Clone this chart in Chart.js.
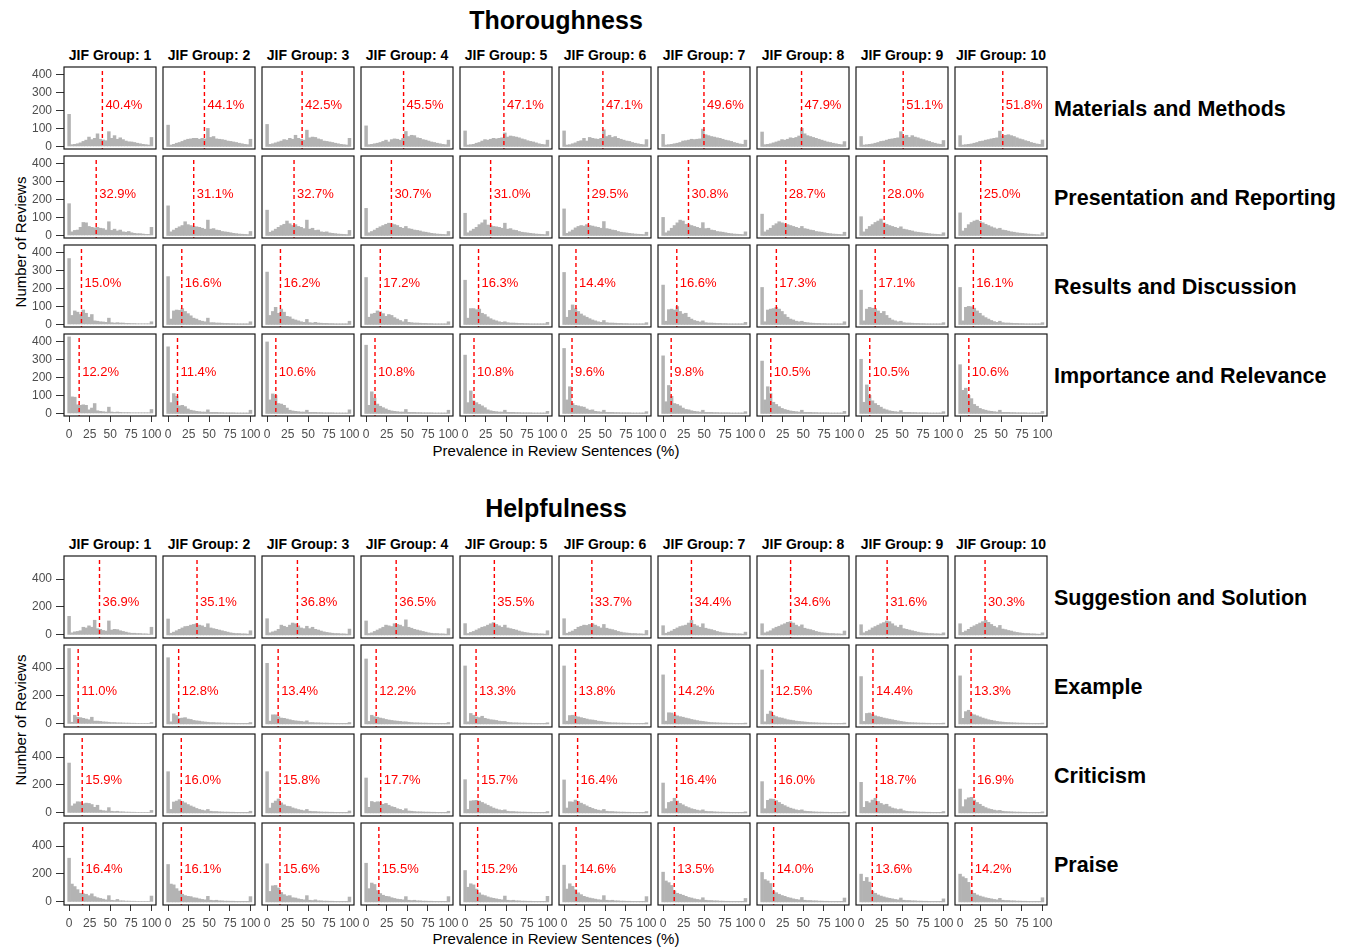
<!DOCTYPE html>
<html>
<head>
<meta charset="utf-8">
<script src="https://cdn.jsdelivr.net/npm/chart.js@4.4.1/dist/chart.umd.min.js"></script>
<style>
  body { margin: 0; background: #fff; font-family: "Liberation Sans", Arial, sans-serif; }
  #page { position: relative; width: 1352px; height: 947px; overflow: hidden; }
  .lbl { position: absolute; white-space: nowrap; color: #000; transform: translate(-50%, -50%); }
  canvas { position: absolute; }
</style>
</head>
<body>
<div id="page"></div>
<script>
// ---------- data ----------
const jifGroups = ["JIF Group: 1", "JIF Group: 2", "JIF Group: 3", "JIF Group: 4", "JIF Group: 5",
  "JIF Group: 6", "JIF Group: 7", "JIF Group: 8", "JIF Group: 9", "JIF Group: 10"];
const thoroughnessRows = ["Materials and Methods", "Presentation and Reporting", "Results and Discussion", "Importance and Relevance"];
const helpfulnessRows = ["Suggestion and Solution", "Example", "Criticism", "Praise"];

// histogram bin centres (30 bins over 0-100)
const binCenters = [0, 3.45, 6.9, 10.34, 13.79, 17.24, 20.69, 24.14, 27.59, 31.03, 34.48, 37.93, 41.38, 44.83, 48.28,
  51.72, 55.17, 58.62, 62.07, 65.52, 68.97, 72.41, 75.86, 79.31, 82.76, 86.21, 89.66, 93.1, 96.55, 100];
const xTicks = [0, 25, 50, 75, 100];
const yTicksThoroughness = [0, 100, 200, 300, 400];
const yTicksHelpfulness = [0, 200, 400];

const materialsMeans = [40.4, 44.1, 42.5, 45.5, 47.1, 47.1, 49.6, 47.9, 51.1, 51.8];
const materialsCounts = [
  [178,10,12,15,20,28,35,52,38,45,70,40,36,32,82,45,60,40,48,38,30,26,25,22,18,15,12,10,8,50],
  [118,8,12,18,22,28,35,40,42,45,45,40,45,42,100,50,55,42,40,38,35,30,28,25,22,18,15,12,10,40],
  [122,12,15,20,25,30,38,35,45,40,62,45,40,35,90,48,52,50,42,38,30,28,25,22,18,15,12,10,8,45],
  [114,10,12,15,18,22,28,35,25,38,42,40,35,45,83,55,62,60,48,45,38,35,30,25,22,18,15,12,10,35],
  [86,8,10,12,18,22,30,38,35,40,45,42,45,48,75,52,58,55,52,48,42,38,32,28,25,20,15,12,10,35],
  [86,8,10,15,20,28,32,45,30,50,45,42,40,45,92,55,62,50,55,45,40,35,30,28,22,18,15,12,10,38],
  [67,8,10,12,15,18,22,30,32,35,40,38,40,42,96,65,60,55,52,48,45,40,35,32,28,22,18,14,12,35],
  [80,10,12,15,20,25,30,38,35,40,48,45,50,58,100,70,60,55,50,45,40,35,30,25,22,18,15,12,10,27],
  [55,8,10,12,14,18,22,28,30,35,40,42,45,48,82,55,62,50,60,52,48,42,38,32,28,22,18,14,12,33],
  [60,8,10,12,14,18,22,28,30,35,38,42,45,48,85,58,62,65,60,55,48,42,38,32,28,22,18,14,12,36]
];

const presentationMeans = [32.9, 31.1, 32.7, 30.7, 31.0, 29.5, 30.8, 28.7, 28.0, 25.0];
const presentationCounts = [
  [176,20,28,30,45,72,70,50,45,42,45,40,38,30,76,28,35,25,30,20,18,22,15,12,10,10,8,6,6,45],
  [164,20,30,40,48,55,76,60,55,50,48,45,40,35,85,35,38,30,28,22,20,18,15,12,10,8,7,6,5,22],
  [140,18,25,35,45,55,62,80,65,55,60,50,45,38,85,35,40,28,30,20,18,20,14,12,10,8,7,6,5,28],
  [150,15,22,30,40,48,55,62,68,65,60,55,45,40,50,38,35,30,28,25,20,18,15,12,10,8,7,6,5,22],
  [123,15,25,35,45,60,70,86,58,55,50,48,45,40,68,35,38,30,28,22,18,16,14,12,10,8,7,6,5,22],
  [147,12,20,30,42,50,55,52,60,55,52,48,45,40,77,38,35,30,28,22,18,16,14,12,10,8,7,6,5,18],
  [100,15,25,40,55,70,85,80,62,60,55,50,45,40,71,38,40,30,28,22,20,18,15,12,10,8,7,6,5,20],
  [118,20,30,40,55,65,76,70,65,60,55,50,45,40,50,38,35,30,28,22,20,18,15,12,10,8,7,6,5,18],
  [104,20,35,50,60,72,80,91,70,62,55,50,45,40,48,35,32,28,25,20,18,16,14,12,10,8,7,6,5,15],
  [125,25,40,60,72,80,85,78,70,62,55,48,42,36,40,30,28,24,20,18,15,13,12,10,8,7,6,5,4,15]
];

const resultsMeans = [15.0, 16.6, 16.2, 17.2, 16.3, 14.4, 16.6, 17.3, 17.1, 16.1];
const resultsCounts = [
  [365,50,75,68,55,80,62,40,55,20,18,15,14,12,35,10,8,10,8,8,6,6,5,5,4,4,4,4,4,15],
  [265,30,75,80,78,88,72,60,48,35,30,22,18,15,35,10,10,8,8,7,6,6,5,5,4,4,4,4,4,15],
  [290,50,72,95,62,85,68,45,42,30,25,20,15,12,28,10,8,12,8,7,6,6,5,5,4,4,4,4,4,18],
  [260,40,58,62,75,70,60,45,55,50,38,30,22,15,28,12,10,8,8,7,6,6,5,5,4,4,4,4,4,15],
  [245,35,88,88,82,85,62,55,42,32,25,20,15,12,15,10,8,8,7,6,6,5,5,4,4,4,4,4,4,12],
  [288,40,78,108,88,72,58,48,40,32,25,20,15,12,22,10,8,8,7,6,6,5,5,4,4,4,4,4,4,10],
  [218,18,82,85,80,99,72,58,62,40,30,22,18,14,20,10,8,8,7,6,6,5,5,4,4,4,4,4,4,12],
  [205,15,80,85,88,95,85,72,55,40,30,25,18,15,18,12,10,8,7,6,6,5,5,4,4,4,4,4,4,15],
  [190,20,85,95,90,88,75,62,72,50,35,25,20,15,18,10,8,8,7,6,6,5,5,4,4,4,4,4,4,10],
  [205,20,95,100,98,90,75,62,48,38,30,22,16,12,18,10,8,8,7,6,6,5,5,4,4,4,4,4,4,10]
];

const importanceMeans = [12.2, 11.4, 10.6, 10.8, 10.8, 9.6, 9.8, 10.5, 10.5, 10.6];
const importanceCounts = [
  [424,92,90,48,45,48,45,20,30,55,15,12,10,8,35,8,6,8,6,5,5,5,4,4,4,4,4,4,4,22],
  [369,60,110,95,42,45,38,25,18,15,12,10,8,8,20,6,6,6,5,5,4,4,4,4,3,3,3,3,3,18],
  [396,75,108,100,55,52,45,30,18,14,12,10,8,8,18,6,6,6,5,5,4,4,4,4,3,3,3,3,3,20],
  [378,45,120,85,52,40,32,25,18,14,12,10,8,8,22,6,6,6,5,5,4,4,4,4,3,3,3,3,3,18],
  [323,60,125,70,60,50,42,32,20,15,12,10,8,8,18,6,6,6,5,5,4,4,4,4,3,3,3,3,3,12],
  [360,75,148,55,45,42,38,35,25,18,20,12,10,8,18,6,6,6,5,5,4,4,4,4,3,3,3,3,3,10],
  [319,65,155,95,55,50,42,30,22,20,15,12,10,8,18,6,6,6,5,5,4,4,4,4,3,3,3,3,3,10],
  [290,75,148,110,62,50,38,28,22,18,14,12,10,8,18,6,6,6,5,5,4,4,4,4,3,3,3,3,3,12],
  [300,62,158,100,70,55,45,35,25,20,15,12,10,8,16,6,6,6,5,5,4,4,4,4,3,3,3,3,3,10],
  [270,128,140,100,82,50,40,28,22,18,14,12,10,8,18,6,6,6,5,5,4,4,4,4,3,3,3,3,3,12]
];

const suggestionMeans = [36.9, 35.1, 36.8, 36.5, 35.5, 33.7, 34.4, 34.6, 31.6, 30.3];
const suggestionCounts = [
  [133,15,22,25,30,55,50,65,55,105,45,40,32,28,100,35,40,38,30,25,20,15,12,12,10,10,8,8,6,55],
  [114,12,20,30,40,50,60,62,70,75,80,70,65,55,80,50,45,40,35,30,25,20,15,12,10,10,8,8,6,30],
  [116,15,22,28,40,70,62,55,70,85,80,65,50,45,62,45,55,40,35,28,22,18,15,12,10,10,8,8,6,42],
  [100,10,15,25,35,45,55,70,65,60,80,75,70,60,108,55,48,40,35,30,25,20,15,12,10,10,8,8,6,45],
  [81,10,18,25,35,45,55,60,70,80,88,75,65,55,70,50,45,40,35,28,22,18,15,12,10,10,8,8,6,30],
  [116,12,20,28,40,55,62,70,68,75,80,70,60,50,75,48,42,38,32,25,20,16,14,12,10,10,8,8,6,32],
  [66,12,20,28,40,50,60,65,70,85,104,75,65,55,80,48,42,38,32,25,20,16,14,12,10,10,8,8,6,20],
  [80,15,22,30,45,55,62,72,80,90,95,85,70,60,72,48,42,38,32,25,20,16,14,12,10,10,8,8,6,28],
  [73,15,25,35,50,60,70,80,88,100,95,80,65,55,70,45,40,35,30,25,20,16,14,12,10,10,8,8,6,15],
  [80,18,28,40,55,65,75,85,95,105,90,75,62,52,68,42,38,32,28,22,18,15,12,10,10,8,8,6,5,15]
];

const exampleMeans = [11.0, 12.8, 13.4, 12.2, 13.3, 13.8, 14.2, 12.5, 14.4, 13.3];
const exampleCounts = [
  [540,12,62,48,45,40,35,30,48,20,20,18,15,14,12,10,10,8,8,7,6,6,5,5,4,4,4,4,4,10],
  [474,15,72,60,40,42,45,35,32,25,22,20,16,14,12,10,10,8,8,7,6,6,5,5,4,4,4,4,4,10],
  [434,20,65,65,52,42,40,35,30,25,22,20,18,15,22,10,10,8,8,7,6,6,5,5,4,4,4,4,4,10],
  [465,18,62,52,48,42,38,32,28,25,22,20,18,15,15,12,10,8,8,7,6,6,5,5,4,4,4,4,4,10],
  [415,15,75,62,50,45,55,40,35,30,28,25,20,18,18,12,10,8,8,7,6,6,5,5,4,4,4,4,4,8],
  [415,20,60,62,55,50,45,40,35,30,28,25,20,18,15,12,10,8,8,7,6,6,5,5,4,4,4,4,4,8],
  [351,20,80,78,65,58,52,48,42,38,32,28,24,20,18,15,12,10,9,8,7,6,6,5,5,4,4,4,4,6],
  [386,15,70,92,62,52,45,42,36,30,27,24,20,18,16,14,12,10,9,8,7,6,6,5,5,4,4,4,4,6],
  [339,18,75,78,68,58,52,48,42,38,34,30,26,22,18,15,12,10,9,8,7,6,6,5,5,4,4,4,4,6],
  [344,40,88,98,72,65,58,50,42,36,30,26,22,18,15,13,11,10,9,8,7,6,6,5,5,4,4,4,4,6]
];

const criticismMeans = [15.9, 16.0, 15.8, 17.7, 15.7, 16.4, 16.4, 16.0, 18.7, 16.9];
const criticismCounts = [
  [357,50,65,80,78,65,70,68,60,40,55,20,16,14,38,12,10,12,8,8,6,6,5,5,4,4,4,4,4,18],
  [295,25,78,85,95,82,72,60,50,42,32,25,20,16,25,12,10,10,8,7,6,6,5,5,4,4,4,4,4,12],
  [295,35,70,85,100,72,58,48,46,36,30,24,20,16,25,12,10,10,8,7,6,6,5,5,4,4,4,4,4,14],
  [250,40,82,75,80,78,62,68,55,45,40,30,25,18,30,14,12,10,8,8,7,6,6,5,5,4,4,4,4,12],
  [238,25,85,88,90,85,75,65,55,45,35,28,22,18,22,12,10,10,8,7,6,6,5,5,4,4,4,4,4,10],
  [236,35,80,78,92,82,70,60,50,40,32,25,20,16,25,12,10,10,8,7,6,6,5,5,4,4,4,4,4,10],
  [214,30,75,82,105,85,68,58,46,38,30,25,20,16,22,12,10,10,8,7,6,6,5,5,4,4,4,4,4,8],
  [224,30,90,100,98,88,75,62,52,42,34,28,22,18,22,13,11,10,8,7,6,6,5,5,4,4,4,4,4,8],
  [219,40,82,72,92,105,82,68,58,62,45,35,30,24,28,16,12,10,9,8,7,6,6,5,5,4,4,4,4,10],
  [171,45,95,108,112,92,75,62,48,38,30,25,20,16,18,12,10,9,8,7,6,6,5,5,4,4,4,4,4,8]
];

const praiseMeans = [16.4, 16.1, 15.6, 15.5, 15.2, 14.6, 13.5, 14.0, 13.6, 14.2];
const praiseCounts = [
  [313,128,110,88,62,58,55,45,58,38,30,25,20,15,45,12,10,18,8,8,6,6,5,5,4,4,4,4,4,42],
  [268,128,122,95,78,55,45,40,38,30,28,22,18,15,40,12,10,12,8,8,6,6,5,5,4,4,4,4,4,38],
  [273,75,115,118,100,68,52,42,45,30,28,22,18,15,45,12,10,15,8,8,6,6,5,5,4,4,4,4,4,35],
  [277,95,135,125,82,60,48,40,38,30,25,20,18,15,38,12,10,12,8,8,6,6,5,5,4,4,4,4,4,38],
  [225,105,130,122,92,65,50,45,36,30,26,22,18,15,42,12,10,12,8,8,6,6,5,5,4,4,4,4,4,40],
  [263,92,130,112,88,65,52,40,34,28,24,20,16,14,45,12,10,12,8,8,6,6,5,5,4,4,4,4,4,38],
  [213,150,138,118,80,62,55,48,40,32,28,22,18,15,30,12,10,10,8,8,6,6,5,5,4,4,4,4,4,25],
  [211,160,150,132,78,66,55,46,40,32,28,22,18,15,32,12,10,10,8,8,6,6,5,5,4,4,4,4,4,28],
  [199,148,175,142,78,62,50,42,36,30,26,22,18,15,28,12,10,10,8,8,6,6,5,5,4,4,4,4,4,22],
  [199,180,168,140,82,62,50,42,36,30,26,22,18,15,26,12,10,10,8,8,6,6,5,5,4,4,4,4,4,30]
];

// ---------- layout ----------
const FONT = "'Liberation Sans', Arial, sans-serif";
const PAGE = document.getElementById("page");
const BOX_W = 92, BOX_H = 82, COL0 = 64, COL_STEP = 99;
const X_MIN = -6.2, X_MAX = 105.5;
const CENTER_X = 556;

const sections = [
  {
    title: "Thoroughness", titleY: 20, headerY: 55, rowTops: [67, 156, 245, 334],
    rowNames: thoroughnessRows,
    counts: [materialsCounts, presentationCounts, resultsCounts, importanceCounts],
    means: [materialsMeans, presentationMeans, resultsMeans, importanceMeans],
    yMin: -14, yMax: 440, yTicks: yTicksThoroughness, labelY: 225, xTitleY: 450, yTitleY: 242
  },
  {
    title: "Helpfulness", titleY: 508, headerY: 544, rowTops: [556, 645, 734, 823],
    rowNames: helpfulnessRows,
    counts: [suggestionCounts, exampleCounts, criticismCounts, praiseCounts],
    means: [suggestionMeans, exampleMeans, criticismMeans, praiseMeans],
    yMin: -22, yMax: 565, yTicks: yTicksHelpfulness, labelY: 232, xTitleY: 938, yTitleY: 720
  }
];

function addText(text, x, y, css, align) {
  const d = document.createElement("div");
  d.className = "lbl";
  d.textContent = text;
  d.style.left = x + "px";
  d.style.top = y + "px";
  d.style.cssText += css;
  if (align === "left") d.style.transform = "translate(0, -50%)";
  if (align === "rot") d.style.transform = "translate(-50%, -50%) rotate(-90deg)";
  PAGE.appendChild(d);
}

// dashed mean line, its label and the panel border
const panelMarks = {
  id: "panelMarks",
  afterDatasetsDraw(chart, args, opts) {
    const { ctx, chartArea: a, scales: { x, y } } = chart;
    const px = x.getPixelForValue(opts.mean);
    ctx.save();
    ctx.strokeStyle = "#ff0000";
    ctx.lineWidth = 1.4;
    ctx.setLineDash([4, 3]);
    ctx.beginPath();
    ctx.moveTo(px, a.top + 4);
    ctx.lineTo(px, a.bottom);
    ctx.stroke();
    ctx.setLineDash([]);
    ctx.fillStyle = "#ff0000";
    ctx.font = "13px " + FONT;
    ctx.textBaseline = "middle";
    ctx.fillText(opts.mean.toFixed(1) + "%", px + 3, y.getPixelForValue(opts.labelY));
    ctx.strokeStyle = "#1a1a1a";
    ctx.lineWidth = 1.2;
    ctx.strokeRect(a.left, a.top, a.right - a.left, a.bottom - a.top);
    ctx.restore();
  }
};

function buildPanel(sec, r, c) {
  const first = c === 0, bottom = r === 3;
  const axisW = first ? 52 : 0, axisH = bottom ? 26 : 0;
  // generous padding so tick labels never push the plot area around
  const padT = 16, padR = 16, padL = first ? 0 : 12, padB = bottom ? 0 : 16;
  const canvas = document.createElement("canvas");
  canvas.width = padL + axisW + BOX_W + padR;
  canvas.height = padT + BOX_H + axisH + padB;
  canvas.style.left = (COL0 + c * COL_STEP - axisW - padL) + "px";
  canvas.style.top = (sec.rowTops[r] - padT) + "px";
  PAGE.appendChild(canvas);

  const counts = sec.counts[r][c];
  const tickFont = { family: FONT, size: 12 };

  new Chart(canvas.getContext("2d"), {
    type: "bar",
    data: {
      datasets: [{
        data: binCenters.map((x, i) => ({ x, y: counts[i] })),
        backgroundColor: "#b3b3b3",
        borderWidth: 0,
        barPercentage: 1,
        categoryPercentage: 1
      }]
    },
    options: {
      responsive: false,
      animation: false,
      events: [],
      layout: { padding: { top: padT, right: padR, left: padL, bottom: padB } },
      plugins: {
        legend: { display: false },
        tooltip: { enabled: false },
        panelMarks: { mean: sec.means[r][c], labelY: sec.labelY }
      },
      scales: {
        x: {
          type: "linear",
          min: X_MIN, max: X_MAX,
          offset: false,
          display: bottom,
          border: { display: false },
          grid: { offset: false, drawOnChartArea: false, drawTicks: true, tickLength: 6, color: "#333" },
          ticks: { font: tickFont, color: "#4d4d4d", padding: 5, maxRotation: 0, autoSkip: false },
          afterBuildTicks: s => { s.ticks = xTicks.map(v => ({ value: v })); },
          afterFit: s => { s.height = axisH; }
        },
        y: {
          type: "linear",
          min: sec.yMin, max: sec.yMax,
          display: first,
          border: { display: false },
          grid: { drawOnChartArea: false, drawTicks: true, tickLength: 8, color: "#333" },
          ticks: { font: tickFont, color: "#4d4d4d", padding: 4, autoSkip: false },
          afterBuildTicks: s => { s.ticks = sec.yTicks.map(v => ({ value: v })); },
          afterFit: s => { s.width = axisW; }
        }
      }
    },
    plugins: [panelMarks]
  });
}

sections.forEach(sec => {
  addText(sec.title, CENTER_X, sec.titleY, "font:bold 25px " + FONT + ";");
  jifGroups.forEach((g, c) => {
    addText(g, COL0 + c * COL_STEP + BOX_W / 2, sec.headerY, "font:bold 14px " + FONT + ";");
  });
  sec.rowNames.forEach((name, r) => {
    addText(name, 1054, sec.rowTops[r] + BOX_H / 2 + 1, "font:bold 21.5px " + FONT + ";", "left");
  });
  addText("Prevalence in Review Sentences (%)", CENTER_X, sec.xTitleY, "font:15px " + FONT + ";");
  addText("Number of Reviews", 20, sec.yTitleY, "font:15px " + FONT + ";", "rot");
  for (let r = 0; r < 4; r++) {
    for (let c = 0; c < 10; c++) buildPanel(sec, r, c);
  }
});
</script>
</body>
</html>
